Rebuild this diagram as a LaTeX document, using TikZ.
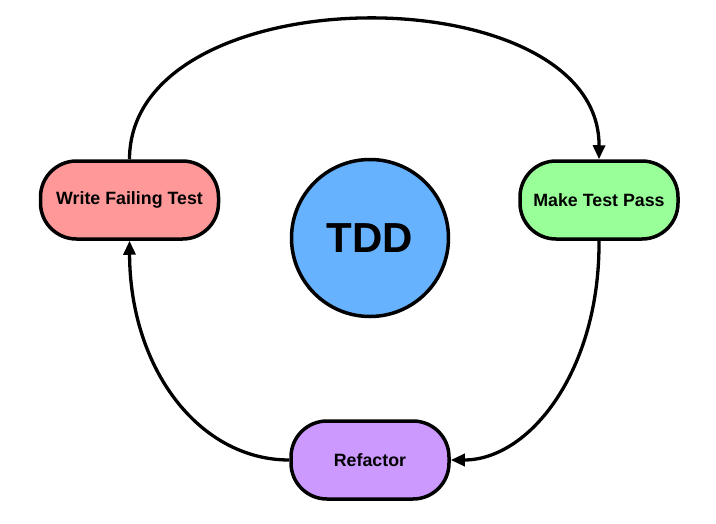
\documentclass[tikz,border=0pt]{standalone}
\usepackage{fontspec}
\setmainfont{Liberation Sans}
\usetikzlibrary{arrows.meta}
\definecolor{cpink}{HTML}{FF9999}
\definecolor{cgreen}{HTML}{99FF99}
\definecolor{cblue}{HTML}{66B2FF}
\definecolor{cpurple}{HTML}{CC99FF}
\begin{document}
\begin{tikzpicture}[x=1pt,y=-1pt,
  stepbox/.style={draw=black,line width=3.5pt,rounded corners=36pt,minimum height=78pt,inner sep=0pt,font=\fontsize{17.8}{21}\selectfont\bfseries},
  hub/.style={draw=black,line width=3.5pt,circle,minimum size=157pt,inner sep=0pt,font=\fontsize{42}{48}\selectfont\bfseries},
  link/.style={line width=3.3pt,-{Triangle[length=14pt,width=12pt]}}]
\useasboundingbox (0,0) rectangle (716,523);
\node[stepbox,fill=cpink,minimum width=178pt] (write) at (129.5,200) {Write Failing Test};
\node[stepbox,fill=cgreen,minimum width=158pt] (pass) at (599,200) {Make Test Pass};
\node[stepbox,fill=cpurple,minimum width=158pt] (refac) at (370,460) {Refactor};
\node[hub,fill=cblue] (tdd) at (370,238) {TDD};
\draw[link] (write.north) .. controls (130,-27) and (600,-27) .. (pass.north);
\draw[link] (pass.south) .. controls (600,370) and (530,460) .. (refac.east);
\draw[link] (refac.west) .. controls (200,460) and (130,370) .. (write.south);
\end{tikzpicture}
\end{document}
